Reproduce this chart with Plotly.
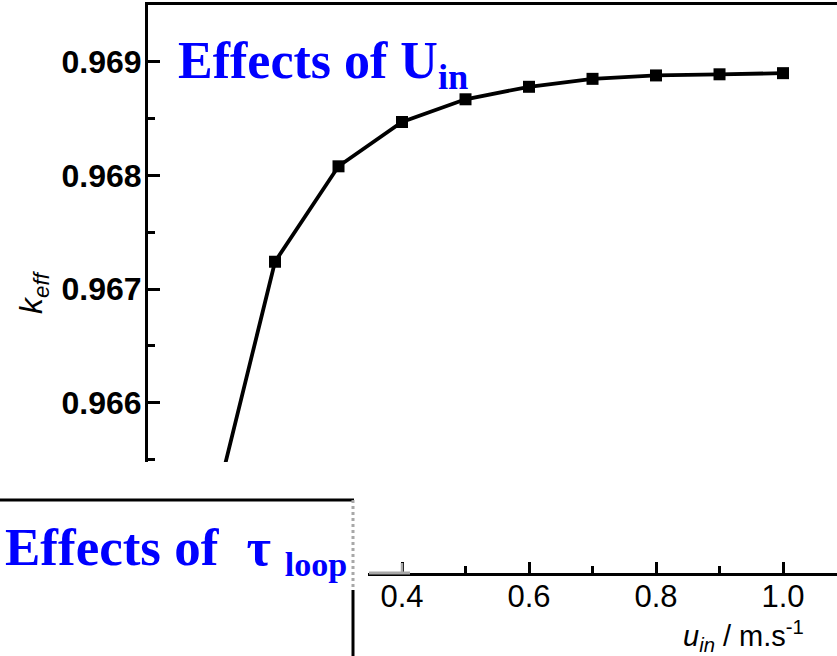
import plotly.graph_objects as go

# ---- data ----
u_in = [0.1, 0.2, 0.3, 0.4, 0.5, 0.6, 0.7, 0.8, 0.9, 1.0]
k_eff = [0.96497, 0.96724, 0.96808, 0.96847, 0.96867, 0.96878, 0.96885, 0.96888, 0.96889, 0.96890]
y_tickvals = [0.965, 0.966, 0.967, 0.968, 0.969]
x_tickvals = [0.0, 0.2, 0.4, 0.6, 0.8, 1.0]

W, H = 837, 656
L, R, T, B = 148, 0, 5, 83
PW, PH = W - L - R, H - T - B


def px(x):
    return (x - L) / PW


def py(y):
    return (H - B - y) / PH


SANS = "Liberation Sans, Arial, sans-serif"
SERIF = "Liberation Serif, Times New Roman, serif"

fig = go.Figure()
fig.add_trace(go.Scatter(
    x=u_in, y=k_eff, mode="lines+markers",
    line=dict(color="black", width=3.8),
    marker=dict(symbol="square", size=12, color="black"),
    showlegend=False, cliponaxis=False,
))

fig.update_layout(
    width=W, height=H,
    margin=dict(l=L, r=R, t=T, b=B, pad=0),
    paper_bgcolor="white", plot_bgcolor="white",
    xaxis=dict(
        range=[0.0, 1.085], showgrid=False, zeroline=False,
        showline=True, linecolor="black", linewidth=3, mirror=True,
        ticks="inside", ticklen=11, tickwidth=3, tickcolor="black",
        tickvals=x_tickvals, tickformat=".1f",
        tickfont=dict(family=SANS, size=31, color="black"),
        minor=dict(dtick=0.1, ticks="inside", ticklen=7, tickwidth=2.5, tickcolor="black"),
        ticklabelstandoff=-6,
    ),
    yaxis=dict(
        range=[0.9645, 0.9695], showgrid=False, zeroline=False,
        showline=True, linecolor="black", linewidth=3, mirror=False,
        ticks="inside", ticklen=12, tickwidth=3, tickcolor="black",
        tickvals=y_tickvals, tickformat=".3f",
        tickfont=dict(family=SANS, size=32, color="black", weight="bold"),
        minor=dict(dtick=0.0005, ticks="inside", ticklen=7, tickwidth=2.5, tickcolor="black"),
        ticklabelstandoff=-3,
    ),
)

shapes = [
    # overlaid panel (white area)
    dict(type="rect", xref="paper", yref="paper", x0=px(-5), x1=px(368), y0=py(462), y1=py(H + 5),
         fillcolor="white", line=dict(width=0), layer="above"),
    dict(type="line", xref="paper", yref="paper", x0=px(-5), x1=px(354), y0=py(500), y1=py(500),
         line=dict(color="black", width=3), layer="above"),
    dict(type="line", xref="paper", yref="paper", x0=px(353), x1=px(353), y0=py(500), y1=py(590),
         line=dict(color="#a8a8a8", width=3, dash="dot"), layer="above"),
    dict(type="line", xref="paper", yref="paper", x0=px(353), x1=px(353), y0=py(590), y1=py(H + 5),
         line=dict(color="black", width=3), layer="above"),
    dict(type="line", xref="paper", yref="paper", x0=px(369), x1=px(410), y0=py(573), y1=py(573),
         line=dict(color="#a8a8a8", width=3), layer="above"),
    dict(type="line", xref="paper", yref="paper", x0=px(402), x1=px(402), y0=py(573), y1=py(563),
         line=dict(color="#a8a8a8", width=2.5), layer="above"),
]
fig.update_layout(shapes=shapes)

annotations = [
    dict(text="Effects of U<sub>in</sub>", xref="paper", yref="paper",
         x=px(176), y=py(64), xanchor="left", yanchor="middle", showarrow=False,
         font=dict(family=SERIF, size=52, color="#0000ff", weight="bold")),
    dict(text=("Effects of<span style=\"font-size:56px\">&nbsp;&nbsp;</span>τ"
               "<span style=\"font-size:56px\">&nbsp;</span>"
               "<sub><span style=\"font-size:34px\">loop</span></sub>"),
         xref="paper", yref="paper",
         x=px(3), y=py(549), xanchor="left", yanchor="middle", showarrow=False,
         font=dict(family=SERIF, size=53, color="#0000ff", weight="bold")),
    dict(text="<i>k</i><sub><i>eff</i></sub>", xref="paper", yref="paper",
         x=px(34), y=py(292), xanchor="center", yanchor="middle", showarrow=False,
         textangle=-90, font=dict(family=SANS, size=32, color="black")),
    dict(text="<i>u</i><sub><i>in</i></sub> / m.s<sup>-1</sup>", xref="paper", yref="paper",
         x=px(806), y=py(636), xanchor="right", yanchor="middle", showarrow=False,
         font=dict(family=SANS, size=29, color="black")),
]
fig.update_layout(annotations=annotations)

fig.write_html("out.html")
